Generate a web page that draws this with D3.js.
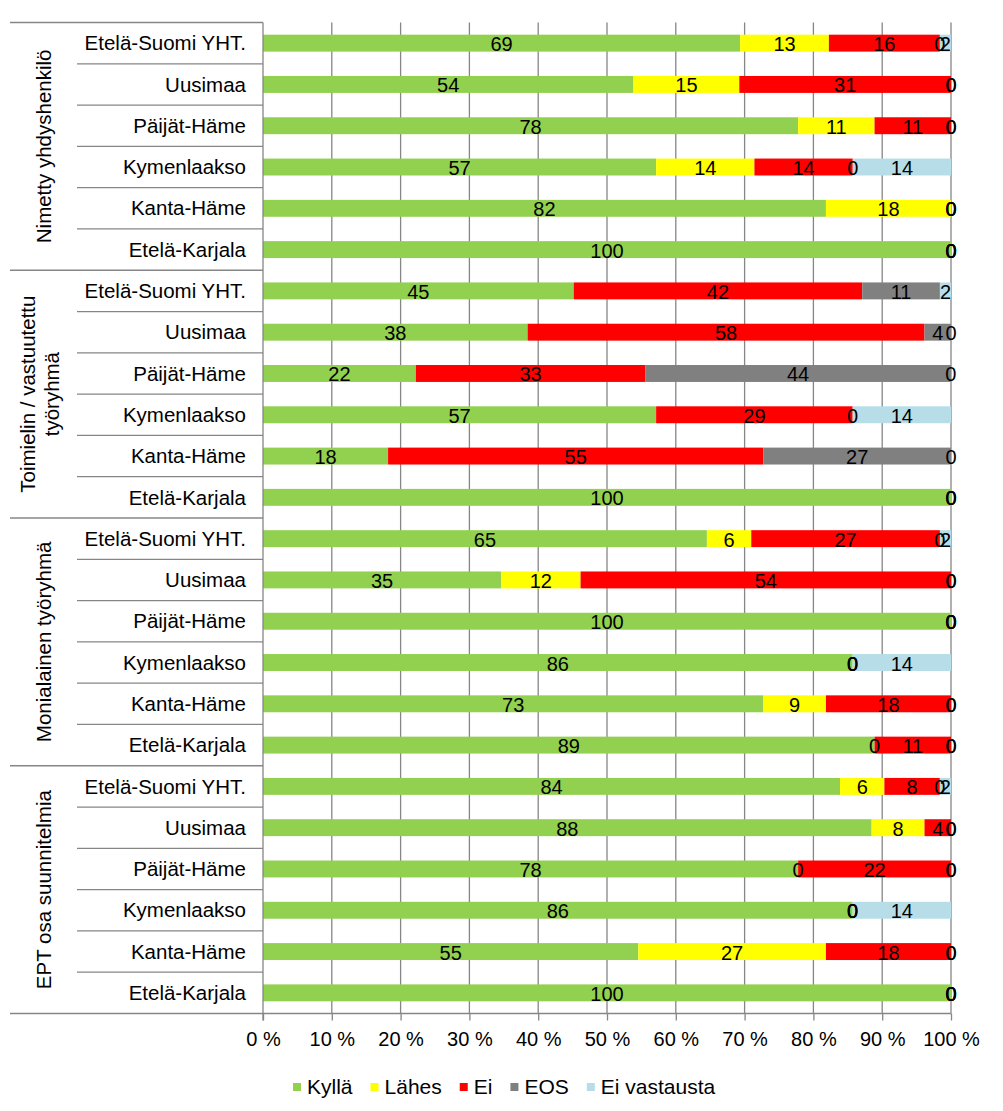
<!DOCTYPE html>
<html>
<head>
<meta charset="utf-8">
<script src="https://cdn.jsdelivr.net/npm/d3@7"></script>
<style>
  body { margin: 0; background: #fff; }
  svg { display: block; font-family: 'Liberation Sans', Arial, sans-serif; }
</style>
</head>
<body>
<div class="js-chart"></div>
<script>
var groups = ['Nimetty yhdyshenkilö', 'Toimielin / vastuutettu|työryhmä', 'Monialainen työryhmä', 'EPT osa suunnitelmia'];
var regions = ['Etelä-Suomi YHT.', 'Uusimaa', 'Päijät-Häme', 'Kymenlaakso', 'Kanta-Häme', 'Etelä-Karjala'];
var seriesNames = ['Kyllä', 'Lähes', 'Ei', 'EOS', 'Ei vastausta'];
var seriesColors = ['#92d050', '#ffff00', '#ff0000', '#808080', '#b7dee8'];
var ticks = [0, 10, 20, 30, 40, 50, 60, 70, 80, 90, 100];

// values in %, one per row (4 groups x 6 regions), null = no label
var kylla = [69.35, 53.85, 77.78, 57.14, 81.82, 100,
             45.16, 38.46, 22.22, 57.14, 18.18, 100,
             64.52, 34.62, 100, 85.71, 72.73, 88.89,
             83.87, 88.46, 77.78, 85.71, 54.55, 100];
var lahes = [12.90, 15.38, 11.11, 14.29, 18.18, 0,
             null, null, null, null, null, null,
             6.45, 11.54, 0, 0, 9.09, 0,
             6.45, 7.69, 0, 0, 27.27, 0];
var ei = [16.13, 30.77, 11.11, 14.29, 0, 0,
          41.94, 57.69, 33.33, 28.57, 54.55, 0,
          27.42, 53.85, 0, 0, 18.18, 11.11,
          8.06, 3.85, 22.22, 0, 18.18, 0];
var eos = [0, 0, 0, 0, 0, 0,
           11.29, 3.85, 44.44, 0, 27.27, 0,
           0, 0, 0, 0, 0, 0,
           0, 0, 0, 0, 0, 0];
var eiVastausta = [1.61, 0, 0, 14.29, 0, 0,
                   1.61, 0, 0, 14.29, 0, 0,
                   1.61, 0, 0, 14.29, 0, 0,
                   1.61, 0, 0, 14.29, 0, 0];

var seriesValues = [kylla, lahes, ei, eos, eiVastausta];

var rows = [];
groups.forEach(function(g, gi) {
    regions.forEach(function(r, ri) {
        var i = gi * regions.length + ri;
        var row = { id: i, group: g, region: r };
        seriesNames.forEach(function(s, si) { row[s] = seriesValues[si][i]; });
        rows.push(row);
    });
});

var width = 1003, height = 1111;
var plotLeft = 263, plotRight = 951, plotTop = 22.5, plotBottom = 1013.5;
var grey = '#868686';

var svg = d3.select('.js-chart')
    .append('svg')
    .attr('width', width)
    .attr('height', height);

var x = d3.scaleLinear().domain([0, 100]).range([plotLeft, plotRight]);
var y = d3.scaleBand()
    .domain(rows.map(function(d) { return d.id; }))
    .range([plotTop, plotBottom])
    .paddingInner(0.59)
    .paddingOuter(0.295);
var step = y.step();

// gridlines
svg.append('g')
    .selectAll('line')
    .data(ticks.slice(1))
    .enter()
    .append('line')
        .attr('x1', function(d) { return x(d); })
        .attr('x2', function(d) { return x(d); })
        .attr('y1', plotTop)
        .attr('y2', plotBottom)
        .attr('stroke', grey)
        .attr('stroke-width', 1.3);

// stacked bars
var stack = d3.stack()
    .keys(seriesNames)
    .value(function(d, key) { return d[key] || 0; });
var stacked = stack(rows);

var layer = svg.append('g')
    .selectAll('g')
    .data(stacked)
    .enter()
    .append('g')
        .attr('fill', function(d, i) { return seriesColors[i]; });

layer.selectAll('rect')
    .data(function(d) { return d; })
    .enter()
    .append('rect')
        .attr('x', function(d) { return x(d[0]); })
        .attr('y', function(d) { return y(d.data.id); })
        .attr('width', function(d) { return x(d[1]) - x(d[0]); })
        .attr('height', y.bandwidth());

// data labels
stacked.forEach(function(s) {
    svg.append('g')
        .selectAll('text')
        .data(s.filter(function(d) { return d.data[s.key] != null; }))
        .enter()
        .append('text')
            .attr('x', function(d) { return x((d[0] + d[1]) / 2); })
            .attr('y', function(d) { return y(d.data.id) + y.bandwidth() / 2 + 1; })
            .attr('dy', '0.35em')
            .attr('text-anchor', 'middle')
            .attr('font-size', 20)
            .attr('fill', '#000')
            .text(function(d) { return Math.round(d.data[s.key]); });
});

// x axis
var xAxis = svg.append('g')
    .attr('transform', 'translate(0,' + plotBottom + ')')
    .call(d3.axisBottom(x)
        .tickValues(ticks)
        .tickSize(7)
        .tickFormat(function(d) { return d + ' %'; }));
xAxis.select('.domain').remove();
xAxis.selectAll('line').attr('stroke', grey).attr('stroke-width', 1.3);
xAxis.selectAll('text')
    .attr('font-size', 20)
    .attr('font-family', 'Liberation Sans, Arial, sans-serif')
    .attr('fill', '#000')
    .attr('y', 18)
    .attr('dy', '0.71em');

svg.append('line')
    .attr('x1', 10).attr('x2', plotRight)
    .attr('y1', plotBottom).attr('y2', plotBottom)
    .attr('stroke', grey).attr('stroke-width', 1.3);

// category axis: vertical line, row and group separators
svg.append('line')
    .attr('x1', plotLeft).attr('x2', plotLeft)
    .attr('y1', plotTop).attr('y2', plotBottom + 7)
    .attr('stroke', grey).attr('stroke-width', 1.3);

svg.append('g')
    .selectAll('line')
    .data(rows)
    .enter()
    .append('line')
        .attr('x1', function(d, i) { return i % regions.length == 0 ? 10 : 77; })
        .attr('x2', plotLeft)
        .attr('y1', function(d) { return y(d.id) - step * 0.295; })
        .attr('y2', function(d) { return y(d.id) - step * 0.295; })
        .attr('stroke', grey)
        .attr('stroke-width', 1.3);

svg.append('g')
    .selectAll('text')
    .data(rows)
    .enter()
    .append('text')
        .attr('x', 246)
        .attr('y', function(d) { return y(d.id) + y.bandwidth() / 2; })
        .attr('dy', '0.35em')
        .attr('text-anchor', 'end')
        .attr('font-size', 20.5)
        .text(function(d) { return d.region; });

// group labels, rotated
groups.forEach(function(g, gi) {
    var first = rows[gi * regions.length], last = rows[gi * regions.length + regions.length - 1];
    var cy = (y(first.id) + y(last.id) + y.bandwidth()) / 2;
    var lines = g.split('|');
    var t = svg.append('text')
        .attr('transform', 'translate(' + (lines.length > 1 ? 28 : 44) + ',' + cy + ') rotate(-90)')
        .attr('text-anchor', 'middle')
        .attr('font-size', 20.5);
    lines.forEach(function(l, li) {
        t.append('tspan')
            .attr('x', 0)
            .attr('dy', li == 0 ? '0.35em' : '1.15em')
            .text(l);
    });
});

// legend
var legend = svg.append('g').attr('transform', 'translate(293,1087)');
var lx = 0;
seriesNames.forEach(function(s, i) {
    legend.append('rect')
        .attr('x', lx).attr('y', -4)
        .attr('width', 8).attr('height', 8)
        .attr('fill', seriesColors[i]);
    var txt = legend.append('text')
        .attr('x', lx + 14)
        .attr('dy', '0.35em')
        .attr('font-size', 21)
        .text(s);
    lx += 14 + txt.node().getComputedTextLength() + 18;
});
</script>
</body>
</html>
